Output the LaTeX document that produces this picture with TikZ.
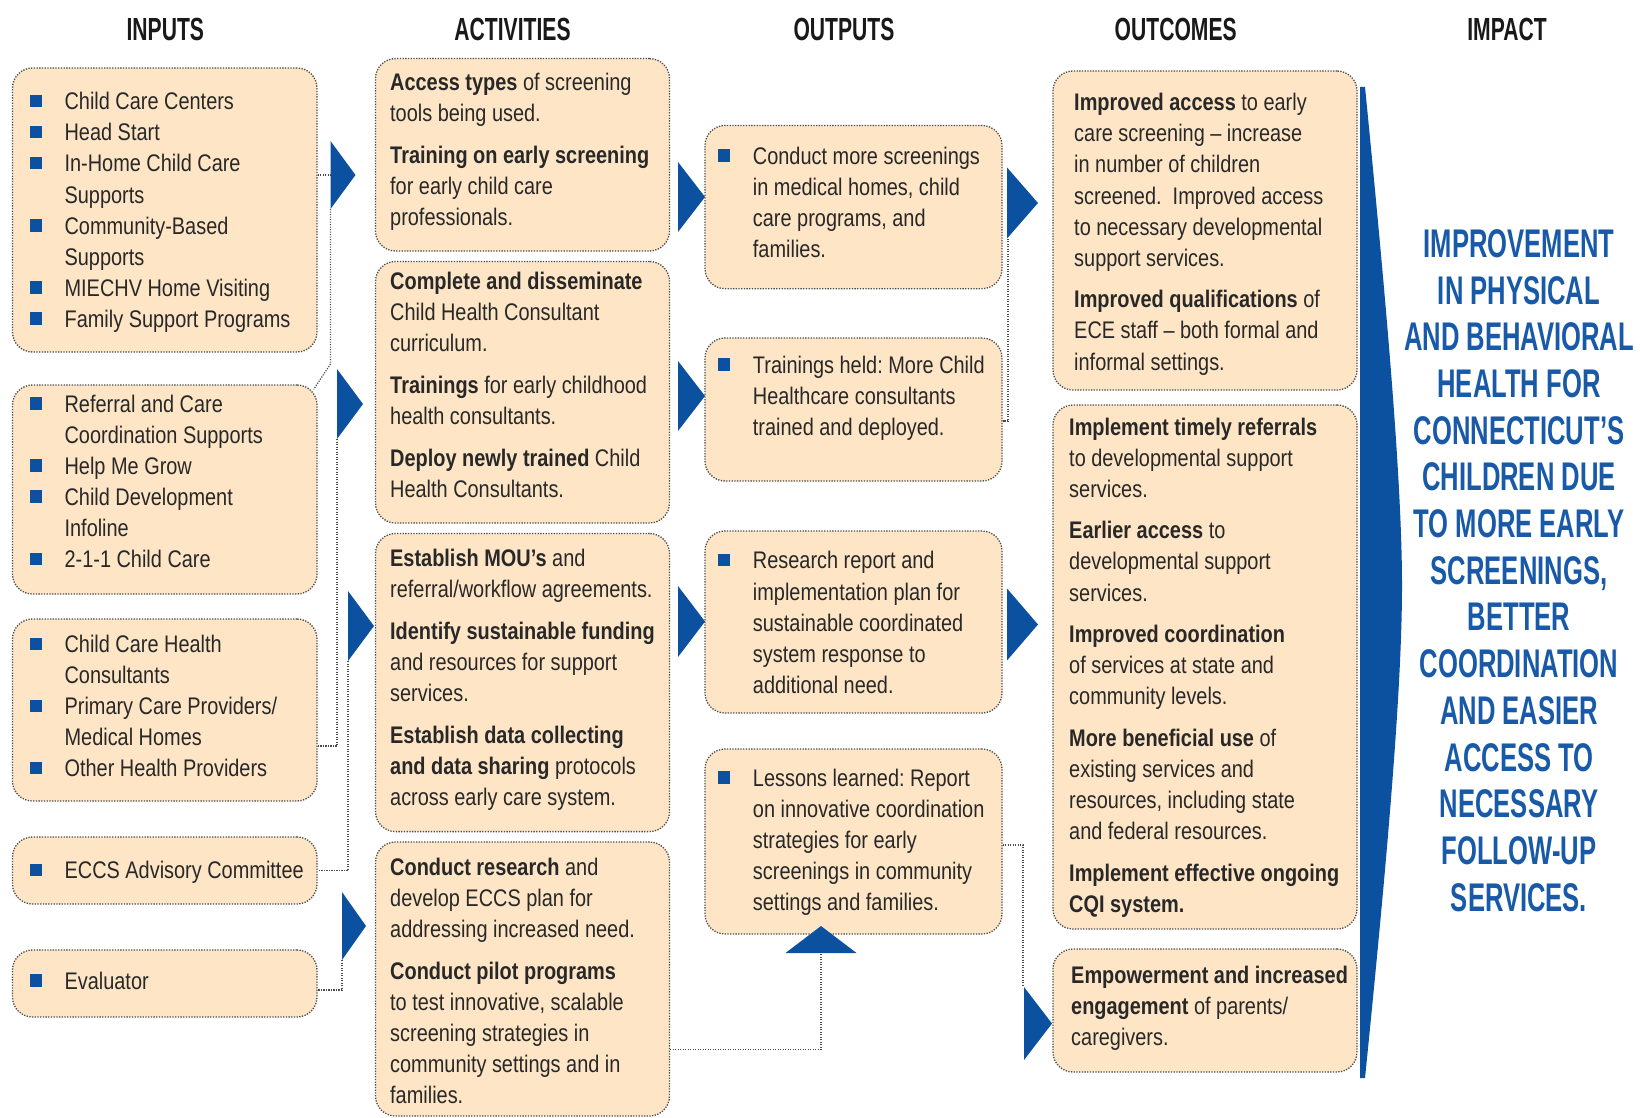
\documentclass[tikz,border=0pt]{standalone}
\usepackage{fontspec}
\setmainfont{Liberation Sans}[FakeStretch=0.83]
\newfontfamily\hdrfont{Liberation Sans}[FakeStretch=0.66]
\newfontfamily\impfont{Liberation Sans}[FakeStretch=0.64]
\usetikzlibrary{calc}
\definecolor{peach}{RGB}{253,229,198}
\definecolor{bblue}{RGB}{12,80,160}
\definecolor{iblue}{RGB}{24,90,168}
\definecolor{txtgray}{RGB}{40,40,40}
\definecolor{dotgray}{RGB}{75,75,75}
\newcommand\bul{\makebox[35pt][l]{\textcolor{bblue}{\rule[2.5pt]{12.5pt}{12.5pt}}}}
\newcommand\ind{\hspace*{35pt}}
\newcommand\fs{\rule{0pt}{20pt}}
\newcommand\rtri[3]{\fill[bblue] (#1) ++(0,-#3) -- ++(#2,#3) -- ++(-#2,#3) -- cycle;}
\frenchspacing
\begin{document}
\begin{tikzpicture}[x=1pt,y=-1pt,
  box/.style n args={2}{draw=dotgray, dash pattern=on 1.3pt off 1.4pt, line width=1.3pt,
    fill=peach, rounded corners=20pt, inner sep=0, minimum width=#1pt, minimum height=#2pt},
  txt/.style={anchor=north west, inner sep=0, align=left, text=txtgray,
    font=\fontsize{24}{31.1}\selectfont},
  hdr/.style={inner sep=0, text=black!90, font=\hdrfont\bfseries\fontsize{32}{36}\selectfont},
  impact/.style={inner sep=0, align=center, text=iblue,
    font=\impfont\bfseries\fontsize{40}{46.7}\selectfont},
  conn/.style={draw=dotgray, dash pattern=on 1.2pt off 1.3pt, line width=1.2pt}]
\useasboundingbox (0,0) rectangle (1640,1118);
\fill[white] (0,0) rectangle (1640,1118);

% headers
\node[hdr] (hIn)  at (165.3,29.3) {INPUTS};
\node[hdr] (hAct) at (512.5,29.3) {ACTIVITIES};
\node[hdr] (hOut) at (844,29.3) {OUTPUTS};
\node[hdr] (hOc)  at (1175.7,29.3) {OUTCOMES};
\node[hdr] (hImp) at (1507,29.3) {IMPACT};

% input boxes
\node[box={304.5}{284}] (I1) at (164.75,210) {};
\node[box={304.5}{209}] (I2) at (164.75,489.5) {};
\node[box={304.5}{182}] (I3) at (164.75,710) {};
\node[box={304.5}{67}]  (I4) at (164.75,870.5) {};
\node[box={304.5}{67}]  (I5) at (164.75,983.5) {};
% activity boxes
\node[box={294}{192.4}] (A1) at (522.5,154.8) {};
\node[box={294}{261.5}] (A2) at (522.5,392.25) {};
\node[box={294}{298.1}] (A3) at (522.5,682.55) {};
\node[box={294}{274}]   (A4) at (522.5,979) {};
% output boxes
\node[box={297}{163.2}] (O1) at (853.5,207.1) {};
\node[box={297}{143}]   (O2) at (853.5,409.5) {};
\node[box={297}{182}]   (O3) at (853.5,622) {};
\node[box={297}{185}]   (O4) at (853.5,841.5) {};
% outcome boxes
\node[box={304}{319}] (OC1) at (1205,230.5) {};
\node[box={304}{524}] (OC2) at (1205,667) {};
\node[box={304}{123}] (OC3) at (1205,1010.5) {};

% input texts
\node[txt] (I1t) at (29.4,89.5) {\fs\bul Child Care Centers\\ \bul Head Start\\ \bul In-Home Child Care\\ \ind Supports\\ \bul Community-Based\\ \ind Supports\\ \bul MIECHV Home Visiting\\ \bul Family Support Programs};
\node[txt] (I2t) at (29.4,391.8) {\fs\bul Referral and Care\\ \ind Coordination Supports\\ \bul Help Me Grow\\ \bul Child Development\\ \ind Infoline\\ \bul 2-1-1 Child Care};
\node[txt] (I3t) at (29.4,632.3) {\fs\bul Child Care Health\\ \ind Consultants\\ \bul Primary Care Providers/\\ \ind Medical Homes\\ \bul Other Health Providers};
\node[txt] (I4t) at (29.4,858.3) {\fs\bul ECCS Advisory Committee};
\node[txt] (I5t) at (29.4,969) {\fs\bul Evaluator};

% activity texts
\node[txt] (A1t) at (390,70.6) {\fs\textbf{Access types} of screening\\ tools being used.\\[10.5pt] \textbf{Training on early screening}\\ for early child care\\ professionals.};
\node[txt] (A2t) at (390,269.4) {\fs\textbf{Complete and disseminate}\\ Child Health Consultant\\ curriculum.\\[10.5pt] \textbf{Trainings} for early childhood\\ health consultants.\\[10.5pt] \textbf{Deploy newly trained} Child\\ Health Consultants.};
\node[txt] (A3t) at (390,546.6) {\fs\textbf{Establish MOU's} and\\ referral/workflow agreements.\\[10.5pt] \textbf{Identify sustainable funding}\\ and resources for support\\ services.\\[10.5pt] \textbf{Establish data collecting}\\ \textbf{and data sharing} protocols\\ across early care system.};
\node[txt] (A4t) at (390,855) {\fs\textbf{Conduct research} and\\ develop ECCS plan for\\ addressing increased need.\\[10.5pt] \textbf{Conduct pilot programs}\\ to test innovative, scalable\\ screening strategies in\\ community settings and in\\ families.};

% output texts
\node[txt] (O1t) at (717.75,143.9) {\fs\bul Conduct more screenings\\ \ind in medical homes, child\\ \ind care programs, and\\ \ind families.};
\node[txt] (O2t) at (717.75,353) {\fs\bul Trainings held: More Child\\ \ind Healthcare consultants\\ \ind trained and deployed.};
\node[txt] (O3t) at (717.75,548.7) {\fs\bul Research report and\\ \ind implementation plan for\\ \ind sustainable coordinated\\ \ind system response to\\ \ind additional need.};
\node[txt] (O4t) at (717.75,766.2) {\fs\bul Lessons learned: Report\\ \ind on innovative coordination\\ \ind strategies for early\\ \ind screenings in community\\ \ind settings and families.};

% outcome texts
\node[txt] (OC1t) at (1074,90.5) {\fs\textbf{Improved access} to early\\ care screening – increase\\ in number of children\\ screened.~ Improved access\\ to necessary developmental\\ support services.\\[10.5pt] \textbf{Improved qualifications} of\\ ECE staff – both formal and\\ informal settings.};
\node[txt] (OC2t) at (1069,414.8) {\fs\textbf{Implement timely referrals}\\ to developmental support\\ services.\\[10.5pt] \textbf{Earlier access} to\\ developmental support\\ services.\\[10.5pt] \textbf{Improved coordination}\\ of services at state and\\ community levels.\\[10.5pt] \textbf{More beneficial use} of\\ existing services and\\ resources, including state\\ and federal resources.\\[10.5pt] \textbf{Implement effective ongoing}\\ \textbf{CQI system.}};
\node[txt] (OC3t) at (1071,963) {\fs\textbf{Empowerment and increased}\\ \textbf{engagement} of parents/\\ caregivers.};

% impact
\fill[bblue] (1360,87) -- (1365,87) .. controls (1386,300) and (1402,480) .. (1402,586)
  .. controls (1402,692) and (1386,870) .. (1365,1078) -- (1360,1078) -- cycle;
\node[impact] (imp) at (1519,570.5) {IMPROVEMENT\\ IN PHYSICAL\\ AND BEHAVIORAL\\ HEALTH FOR\\ CONNECTICUT’S\\ CHILDREN DUE\\ TO MORE EARLY\\ SCREENINGS,\\ BETTER\\ COORDINATION\\ AND EASIER\\ ACCESS TO\\ NECESSARY\\ FOLLOW-UP\\ SERVICES.};

% arrow triangles (base centre coordinates)
\coordinate (t1) at (330.5,175);
\coordinate (t2) at (337,404);
\coordinate (t3) at (348,626);
\coordinate (t4) at (342,926);
\coordinate (t5) at (678,197);
\coordinate (t6) at (678,396);
\coordinate (t7) at (678,621.5);
\coordinate (t8) at (1007,203);
\coordinate (t9) at (1007,624.5);
\coordinate (t10) at (1024,1023.5);
\coordinate (t11) at (821,953);
\rtri{t1}{25}{34}
\rtri{t2}{26}{35}
\rtri{t3}{26}{35}
\rtri{t4}{24}{34}
\rtri{t5}{27}{35}
\rtri{t6}{27}{35}
\rtri{t7}{27}{35.5}
\rtri{t8}{31}{35.5}
\rtri{t9}{31}{36}
\rtri{t10}{28}{36.5}
\fill[bblue] (t11) ++(-35.5,0) -- ++(35.5,-27) -- ++(35.5,27) -- cycle;

% connector helper coordinates
\coordinate (t1b) at (330.5,209);
\coordinate (t2b) at (337,439);
\coordinate (t3b) at (348,661);
\coordinate (t4b) at (342,960);
\coordinate (t8b) at (1008,238.5);
\coordinate (t10t) at (1023,987);
\coordinate (k2) at (330.5,364);
\coordinate (k3) at (0,746);
\coordinate (k5) at (0,990);
\coordinate (k6) at (0,421);
\coordinate (k7) at (0,845);
\coordinate (k8) at (0,1049.5);

% connectors
\draw[conn] (I1.east |- t1) -- (t1);
\draw[conn] (t1b) -- (k2) -- ($(I2.north east)+(-4,5)$);
\draw[conn] (t2b) |- (I3.east |- k3);
\draw[conn] (t3b) |- (I4.east);
\draw[conn] (t4b) |- (I5.east |- k5);
\draw[conn] (t8b) |- (O2.east |- k6);
\draw[conn] (O4.east |- k7) -| (t10t);
\draw[conn] (A4.east |- k8) -| (t11);
\end{tikzpicture}
\end{document}
